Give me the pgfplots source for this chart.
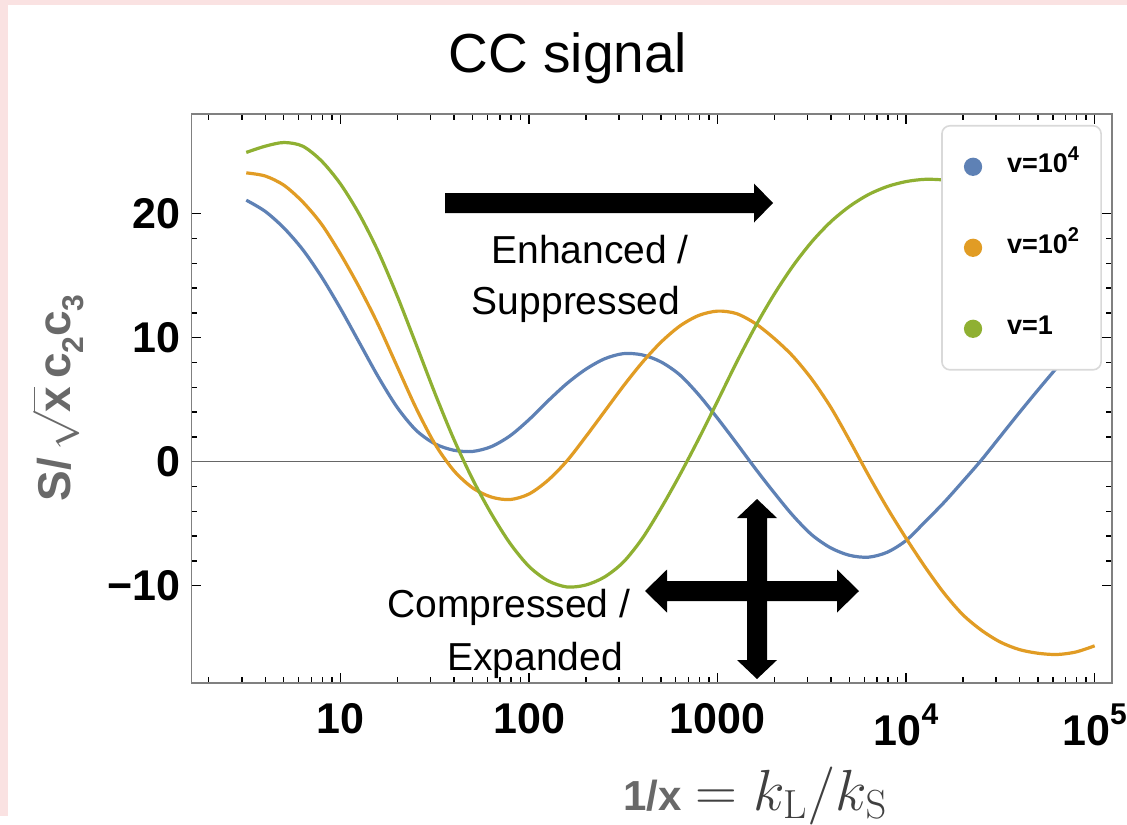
\documentclass[border=0pt]{standalone}
\usepackage{fix-cm}
\usepackage[no-math]{fontspec}
\setmainfont{Liberation Sans}
\usepackage{pgfplots}
\usepackage{pgfplotstable}
\pgfplotsset{compat=1.18}
\definecolor{mblue}{RGB}{94,129,181}
\definecolor{morange}{RGB}{225,156,36}
\definecolor{mgreen}{RGB}{143,176,50}
\definecolor{pinkbg}{RGB}{250,226,226}
\definecolor{labgray}{RGB}{105,105,105}
\definecolor{mathgray}{RGB}{64,64,64}
\newcommand{\sups}[1]{\raisebox{0.5em}{\fontsize{15}{17}\selectfont #1}}
\newcommand{\lsups}[1]{\raisebox{0.45em}{\fontsize{10}{12}\selectfont #1}}
\newcommand{\subs}[1]{\raisebox{-0.3em}{\fontsize{15}{17}\selectfont #1}}

\pgfplotstableread{
x       blue    orange  green
3.162   21.1    23.3    24.95
3.981   20.2    23.05   25.45
5.012   18.85   22.3    25.75
6.310   17.1    20.95   25.45
7.943   14.9    19.15   24.25
10      12.35   16.75   22.4
12.59   9.6     14.05   19.95
15.85   6.85    11.05   16.95
19.95   4.4     7.7     13.4
25.12   2.55    4.35    9.5
31.62   1.45    1.45    5.55
39.81   0.93    -0.7    1.85
50.12   0.83    -2.1    -1.4
63.10   1.22    -2.85   -4.2
79.43   2.1     -3.05   -6.6
100     3.4     -2.6    -8.45
125.9   4.9     -1.5    -9.6
158.5   6.3     0.05    -10.1
199.5   7.45    2.0     -9.95
251.2   8.3     4.05    -9.3
316.2   8.72    6.1     -8.1
398.1   8.62    8.0     -6.2
501.2   8.05    9.65    -3.75
631.0   7.0     10.95   -1.05
794.3   5.4     11.8    1.85
1000    3.5     12.15   4.9
1259    1.5     11.95   8.0
1585    -0.55   11.15   10.9
1995    -2.5    9.95    13.5
2512    -4.35   8.5     15.8
3162    -5.9    6.65    17.75
3981    -6.95   4.4     19.35
5012    -7.55   1.72    20.6
6310    -7.7    -1.08   21.55
7943    -7.3    -3.73   22.2
10000   -6.35   -6.18   22.6
12589   -4.85   -8.48   22.78
15849   -3.3    -10.58  22.72
19953   -1.6    -12.33  22.4
25119   0.15    -13.6   21.85
31623   2.05    -14.55  21.1
39811   3.95    -15.15  20.15
50119   5.8     -15.45  19.0
63096   7.6     -15.55  17.7
79433   9.35    -15.35  16.25
100000  11.05   -14.85  14.7
}\curves

\begin{document}
\begin{tikzpicture}
\begin{scope}[x=0.5pt,y=-0.5pt]
\fill[pinkbg] (0,0) rectangle (1127,816);
\fill[white] (8,5) rectangle (1127,816);
\end{scope}
\begin{axis}[
 at={(95.75pt,-341.5pt)}, anchor=south west,
 scale only axis, width=460.25pt, height=284.5pt,
 xmode=log, xmin=1.62, xmax=123600, ymin=-17.85, ymax=28.05,
 xtick={10,100,1000,10000,100000},
 xticklabels={10,100,1000,10\sups{4},10\sups{5}},
 minor xtick={2,3,4,5,6,7,8,9,20,30,40,50,60,70,80,90,200,300,400,500,600,700,800,900,2000,3000,4000,5000,6000,7000,8000,9000,20000,30000,40000,50000,60000,70000,80000,90000},
 ytick={-10,0,10,20}, yticklabels={−10,0,10,20},
 minor y tick num=4,
 tick align=inside,
 major tick length=5pt, minor tick length=3pt,
 tick style={black, line width=0.7pt},
 axis line style={draw=black!50, line width=0.8pt},
 tick label style={font=\bfseries\fontsize{21.5}{24}\selectfont},
 xticklabel style={anchor=north, inner sep=0pt, yshift=-10pt},
 yticklabel style={anchor=east, inner sep=0pt, xshift=-5.5pt},
 legend style={at={(0.989,0.9807)}, anchor=north east,
   draw=black!15, line width=0.8pt, rounded corners=4pt, fill=white,
   inner xsep=11pt, inner ysep=14.5pt, row sep=28.5pt,
   font=\bfseries\fontsize{13.5}{16}\selectfont,
   nodes={inner sep=0pt, text height=9pt, text depth=3pt},
   /tikz/every odd column/.append style={column sep=12.5pt},
   /tikz/every even column/.append style={column sep=0pt}},
 legend cell align=left,
 legend image code/.code={\fill (3.75pt,0pt) circle (3.75pt);},
]
\addplot[forget plot, black!60, line width=0.5pt] coordinates {(1,0) (1000000,0)};
\addplot[mblue, line width=1.6pt, smooth] table[x=x, y=blue] {\curves};
\addplot[morange, line width=1.6pt, smooth] table[x=x, y=orange] {\curves};
\addplot[mgreen, line width=1.6pt, smooth] table[x=x, y=green] {\curves};
\legend{v=10\lsups{4}, v=10\lsups{2}, v=1}
\end{axis}
\begin{scope}[x=0.5pt,y=-0.5pt]
% arrows
\fill[black] (445,193) -- (754,193) -- (754,183.5) -- (773,203) -- (754,222.5) -- (754,213) -- (445,213) -- cycle;
\fill[black] (645,591) -- (667,569.5) -- (667,581) -- (837,581) -- (837,569.5) -- (859,591) -- (837,612.5) -- (837,601) -- (667,601) -- (667,612.5) -- cycle;
\fill[black] (757,499) -- (777,518) -- (767,518) -- (767,660) -- (777,660) -- (757,679) -- (737,660) -- (747,660) -- (747,518) -- (737,518) -- cycle;
% texts
\node[anchor=base, inner sep=0pt, font=\fontsize{27.5}{32}\selectfont] at (568,72) {CC signal};
\node[anchor=base, inner sep=0pt, font=\fontsize{19.5}{23}\selectfont] at (590,263) {Enhanced /};
\node[anchor=base, inner sep=0pt, font=\fontsize{19.5}{23}\selectfont] at (576,314) {Suppressed};
\node[anchor=base, inner sep=0pt, font=\fontsize{19.5}{23}\selectfont] at (509,617) {Compressed /};
\node[anchor=base, inner sep=0pt, font=\fontsize{19.5}{23}\selectfont] at (535,670) {Expanded};
\node[rotate=90, inner sep=1pt, text=labgray, font=\bfseries\fontsize{23}{27}\selectfont] at (58,398)
  {S/\,$\sqrt{\mbox{x}}$\,c\subs{2}c\subs{3}};
\node[anchor=base west, inner sep=0pt] at (623,810)
  {\textcolor{labgray}{\bfseries\fontsize{21}{25}\selectfont 1/x}\hspace{7pt}{\color{mathgray}\fontsize{29}{34}\selectfont$= k_{\mathrm{L}}/k_{\mathrm{S}}$}};
\end{scope}
\end{tikzpicture}
\end{document}
